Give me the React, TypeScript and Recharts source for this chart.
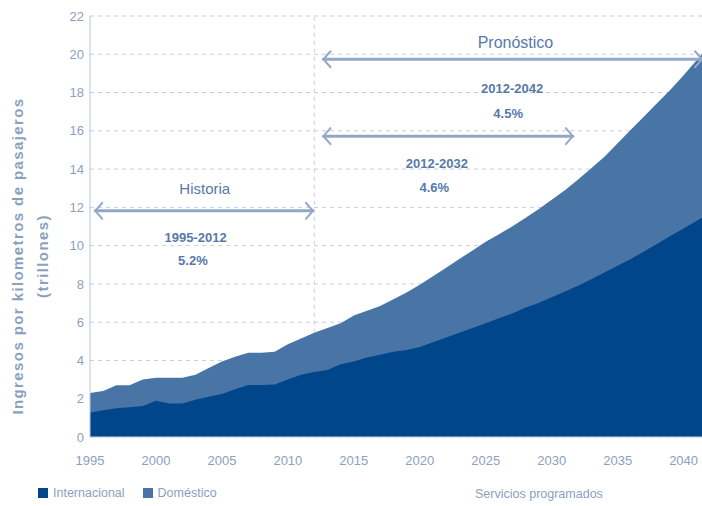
import { AreaChart, Area, XAxis, YAxis, CartesianGrid, ReferenceLine, ReferenceDot } from "recharts";

// años 1995-2042
const years = [
    1995, 1996, 1997, 1998, 1999, 2000, 2001, 2002, 2003, 2004, 2005, 2006, 2007, 2008, 2009, 2010,
    2011, 2012, 2013, 2014, 2015, 2016, 2017, 2018, 2019, 2020, 2021, 2022, 2023, 2024, 2025, 2026,
    2027, 2028, 2029, 2030, 2031, 2032, 2033, 2034, 2035, 2036, 2037, 2038, 2039, 2040, 2041, 2042,
];

// total (internacional + doméstico), trillones
const total = [
    2.3, 2.4, 2.7, 2.7, 3.0, 3.1, 3.1, 3.1, 3.25, 3.6, 3.95, 4.2, 4.4, 4.4, 4.45, 4.85,
    5.15, 5.45, 5.7, 5.95, 6.35, 6.6, 6.85, 7.2, 7.55, 7.95, 8.4, 8.85, 9.3, 9.75, 10.2, 10.6,
    11.0, 11.45, 11.9, 12.4, 12.9, 13.45, 14.05, 14.65, 15.35, 16.05, 16.75, 17.45, 18.15, 18.9, 19.7, 20.5,
];

// internacional
const international = [
    1.27, 1.4, 1.5, 1.55, 1.62, 1.9, 1.75, 1.75, 1.95, 2.1, 2.25, 2.5, 2.72, 2.72, 2.75, 3.0,
    3.25, 3.4, 3.5, 3.8, 3.95, 4.15, 4.3, 4.45, 4.55, 4.7, 4.95, 5.2, 5.45, 5.7, 5.95, 6.2,
    6.45, 6.75, 7.0, 7.3, 7.6, 7.9, 8.25, 8.6, 8.95, 9.3, 9.7, 10.1, 10.5, 10.9, 11.3, 11.7,
];

const xTicks = [1995, 2000, 2005, 2010, 2015, 2020, 2025, 2030, 2035, 2040];
const yTicks = [0, 2, 4, 6, 8, 10, 12, 14, 16, 18, 20, 22];

const data = years.map((year, i) => ({ year, total: total[i], international: international[i] }));

const DARK = "#01468a";
const LIGHT = "#4874a6";
const MUTED = "#8b9fbf";
const NOTE = "#5779aa";
const ARROW = "#93a8c6";
const GRID = "#c3cee0";
const FONT = "'Liberation Sans', Arial, sans-serif";

const Arrow = (p: any) => {
    const { x1, y1, x2, y2 } = p;
    const h = 7;
    return (
        <g stroke={ARROW} fill="none" strokeLinecap="round">
            <line x1={x1} y1={y1} x2={x2} y2={y2} strokeWidth={3} />
            <polyline points={`${x1 + h},${y1 - h - 1} ${x1},${y1} ${x1 + h},${y1 + h + 1}`} strokeWidth={2} />
            <polyline points={`${x2 - h},${y2 - h - 1} ${x2},${y2} ${x2 - h},${y2 + h + 1}`} strokeWidth={2} />
        </g>
    );
};

const note = (text: string, size: number, weight: string | number = "normal") => (p: any) => (
    <text
        x={p.cx}
        y={p.cy}
        textAnchor="middle"
        dominantBaseline="central"
        fill={NOTE}
        fontSize={size}
        fontWeight={weight}
        fontFamily={FONT}
    >
        {text}
    </text>
);

export default function App() {
    return (
        <div style={{ position: "absolute", left: 0, top: 0, width: 702, height: 506, overflow: "hidden", background: "#fff", fontFamily: FONT }}>
            <AreaChart width={710} height={506} data={data} margin={{ top: 16, right: 0, bottom: 0, left: 0 }}>
                <CartesianGrid vertical={false} stroke={GRID} strokeDasharray="4 4" />
                <XAxis
                    dataKey="year"
                    type="number"
                    domain={[1995, 2042]}
                    ticks={xTicks}
                    height={69}
                    tickLine={false}
                    tickMargin={13}
                    axisLine={{ stroke: "#c8d3e3" }}
                    tick={{ fill: MUTED, fontSize: 13, fontFamily: FONT }}
                />
                <YAxis
                    domain={[0, 22]}
                    ticks={yTicks}
                    width={90}
                    tickLine={false}
                    tickSize={0}
                    tickMargin={6}
                    axisLine={{ stroke: "#b9c7db" }}
                    tick={{ fill: MUTED, fontSize: 13, fontFamily: FONT }}
                />
                <Area type="linear" dataKey="total" name="Doméstico" stroke="none" fill={LIGHT} fillOpacity={1} isAnimationActive={false} />
                <Area type="linear" dataKey="international" name="Internacional" stroke="none" fill={DARK} fillOpacity={1} isAnimationActive={false} />

                {/* línea vertical 2012 */}
                <ReferenceLine segment={[{ x: 2012, y: 5.45 }, { x: 2012, y: 22 }]} stroke={GRID} strokeDasharray="4 4" />

                {/* flechas */}
                <ReferenceLine segment={[{ x: 1995.4, y: 11.82 }, { x: 2011.9, y: 11.82 }]} shape={Arrow} />
                <ReferenceLine segment={[{ x: 2012.7, y: 19.74 }, { x: 2041.4, y: 19.74 }]} shape={Arrow} />
                <ReferenceLine segment={[{ x: 2012.7, y: 15.72 }, { x: 2031.6, y: 15.72 }]} shape={Arrow} />

                {/* textos */}
                <ReferenceDot x={2003.7} y={13.0} r={0} shape={note("Historia", 15)} />
                <ReferenceDot x={2003.0} y={10.44} r={0} shape={note("1995-2012", 13, "bold")} />
                <ReferenceDot x={2002.8} y={9.24} r={0} shape={note("5.2%", 13, "bold")} />
                <ReferenceDot x={2027.25} y={20.63} r={0} shape={note("Pronóstico", 16)} />
                <ReferenceDot x={2027.0} y={18.22} r={0} shape={note("2012-2042", 13, "bold")} />
                <ReferenceDot x={2026.7} y={16.92} r={0} shape={note("4.5%", 13, "bold")} />
                <ReferenceDot x={2021.3} y={14.3} r={0} shape={note("2012-2032", 13, "bold")} />
                <ReferenceDot x={2021.1} y={13.05} r={0} shape={note("4.6%", 13, "bold")} />
            </AreaChart>

            {/* título del eje Y */}
            <div
                style={{
                    position: "absolute",
                    left: 30,
                    top: 256,
                    transform: "translate(-50%, -50%) rotate(-90deg)",
                    color: MUTED,
                    fontSize: 15,
                    fontWeight: "bold",
                    letterSpacing: 1.4,
                    lineHeight: "25px",
                    textAlign: "center",
                    whiteSpace: "nowrap",
                }}
            >
                Ingresos por kilometros de pasajeros
                <br />
                (trillones)
            </div>

            {/* leyenda */}
            <div style={{ position: "absolute", left: 38, top: 486, display: "flex", alignItems: "center", color: MUTED, fontSize: 12.5 }}>
                <span style={{ width: 10, height: 10, background: DARK, display: "inline-block", marginRight: 5 }} />
                <span style={{ marginRight: 18 }}>Internacional</span>
                <span style={{ width: 10, height: 10, background: LIGHT, display: "inline-block", marginRight: 5 }} />
                <span>Doméstico</span>
            </div>
            <div style={{ position: "absolute", left: 475, top: 487, color: MUTED, fontSize: 12.5 }}>Servicios programados</div>
        </div>
    );
}
